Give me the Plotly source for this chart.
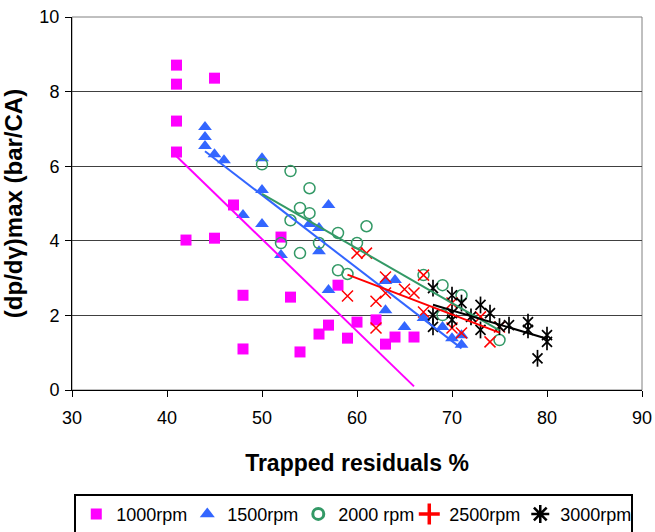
import numpy as np
import plotly.graph_objects as go

# ---- data ----
x_1000 = [41, 41, 41, 41, 45, 42, 45, 47, 48, 48, 52, 53, 54, 56, 57, 58, 59, 60, 62, 63, 64, 66]
y_1000 = [8.71, 8.20, 7.21, 6.38, 8.36, 4.02, 4.07, 4.96, 2.54, 1.10, 4.10, 2.49, 1.02, 1.50, 1.74,
          2.81, 1.39, 1.82, 1.88, 1.23, 1.42, 1.42]

x_1500 = [44, 44, 44, 45, 46, 50, 50, 48, 50, 57, 55, 56, 56, 52, 57, 63, 64, 63, 65, 67, 69, 70, 71, 71]
y_1500 = [7.05, 6.78, 6.54, 6.32, 6.16, 6.21, 5.36, 4.69, 4.45, 4.96, 4.45, 4.34, 3.72, 3.62, 2.68,
          2.92, 2.95, 2.14, 1.69, 1.93, 1.69, 1.39, 1.47, 1.21]

x_2000 = [50, 53, 55, 54, 55, 53, 58, 52, 56, 61, 60, 54, 58, 59, 67, 69, 71, 69, 75]
y_2000 = [6.05, 5.87, 5.41, 4.88, 4.74, 4.55, 4.21, 3.94, 3.94, 4.39, 3.94, 3.67, 3.21, 3.11, 3.08,
          2.81, 2.54, 2.01, 1.34]

x_2500 = [60, 61, 63, 59, 62, 63, 65, 66, 62, 67, 67, 70, 70, 71, 73, 74, 75]
y_2500 = [3.67, 3.67, 3.03, 2.52, 2.38, 2.60, 2.70, 2.60, 1.66, 3.08, 2.09, 2.33, 1.66, 1.53, 1.96,
          1.29, 1.69]

x_3000 = [68, 70, 71, 68, 68, 70, 70, 72, 73, 74, 73, 75, 76, 78, 78, 80, 80, 79]
y_3000 = [2.73, 2.54, 2.33, 2.01, 1.69, 2.06, 1.88, 1.96, 2.28, 2.06, 1.61, 1.70, 1.74, 1.82, 1.61,
          1.47, 1.29, 0.85]

names = ["1000rpm", "1500rpm", "2000 rpm", "2500rpm", "3000rpm"]
colors = ["#FF00FF", "#3366FF", "#339966", "#FF0000", "#000000"]

x_ticks = [30, 40, 50, 60, 70, 80, 90]
y_ticks = [0, 2, 4, 6, 8, 10]

SANS = "Liberation Sans, Arial, sans-serif"

fig = go.Figure()

series = [
    (x_1000, y_1000, dict(symbol="square", size=11, color=colors[0])),
    (x_1500, y_1500, dict(symbol="triangle-up", size=12, color=colors[1])),
    (x_2000, y_2000, dict(symbol="circle-open", size=11, color=colors[2], line=dict(color=colors[2], width=1.5))),
    (x_2500, y_2500, dict(symbol="x-thin-open", size=11, color=colors[3], line=dict(color=colors[3], width=1.5))),
    (x_3000, y_3000, dict(symbol="x-thin-open", size=10, color=colors[4], line=dict(color=colors[4], width=1.7))),
]

for xs, ys, mk in series:
    fig.add_trace(go.Scatter(x=xs, y=ys, mode="markers", marker=mk, showlegend=False, hoverinfo="x+y"))

# vertical stroke of the star markers for 3000rpm
fig.add_trace(go.Scatter(x=x_3000, y=y_3000, mode="markers",
                         marker=dict(symbol="line-ns-open", size=12, color="#000000",
                                     line=dict(color="#000000", width=1.7)),
                         showlegend=False, hoverinfo="skip"))

# linear trendlines
for (xs, ys, _), c in zip(series, colors):
    xa = np.array(xs, dtype=float)
    ya = np.array(ys, dtype=float)
    k, b = np.polyfit(xa, ya, 1)
    xl = np.array([xa.min(), xa.max()])
    fig.add_trace(go.Scatter(x=xl, y=k * xl + b, mode="lines", line=dict(color=c, width=2),
                             showlegend=False, hoverinfo="skip"))

# legend entries
legend_markers = [
    dict(symbol="square", size=11, color=colors[0]),
    dict(symbol="triangle-up", size=13, color=colors[1]),
    dict(symbol="circle-open", size=11, color=colors[2], line=dict(color=colors[2], width=3)),
    dict(symbol="cross-thin-open", size=15, color=colors[3], line=dict(color=colors[3], width=3.5)),
    dict(symbol="asterisk-open", size=15, color=colors[4], line=dict(color=colors[4], width=2.5)),
]
for n, mk in zip(names, legend_markers):
    fig.add_trace(go.Scatter(x=[None], y=[None], mode="markers", marker=mk, name=n, showlegend=True))

fig.update_layout(
    width=655, height=532,
    margin=dict(l=72, r=13, t=17, b=142, autoexpand=False),
    paper_bgcolor="white", plot_bgcolor="white",
    showlegend=True,
    legend=dict(orientation="h", x=0.004, xanchor="left",
                yref="container", y=0.072, yanchor="top",
                font=dict(family=SANS, size=18, color="black"),
                entrywidth=66, entrywidthmode="pixels",
                bordercolor="black", borderwidth=2, bgcolor="white",
                itemclick=False, itemdoubleclick=False),
    shapes=[dict(type="rect", xref="paper", yref="paper", x0=0, x1=1, y0=0, y1=1,
                 line=dict(color="#808080", width=1), layer="below")],
)

fig.update_xaxes(range=[30, 90], tickvals=x_ticks, ticktext=[str(v) for v in x_ticks],
                 automargin=False,
                 showgrid=False, zeroline=False, showline=True, linecolor="black", linewidth=1,
                 ticks="outside", ticklen=6, tickcolor="black",
                 tickfont=dict(family=SANS, size=18, color="black"), ticklabelstandoff=5,
                 title=dict(text="<b>Trapped residuals %</b>", font=dict(family=SANS, size=23, color="black"),
                            standoff=28))
fig.update_yaxes(range=[0, 10], tickvals=y_ticks, ticktext=[str(v) for v in y_ticks],
                 automargin=False,
                 showgrid=True, gridcolor="#404040", gridwidth=1, zeroline=False,
                 showline=True, linecolor="black", linewidth=1,
                 ticks="outside", ticklen=6, tickcolor="black",
                 tickfont=dict(family=SANS, size=18, color="black"), ticklabelstandoff=2,
                 title=dict(text="<b>(dp/dγ)max (bar/CA)</b>", font=dict(family=SANS, size=24, color="black"),
                            standoff=10))

fig.write_html("out.html")
